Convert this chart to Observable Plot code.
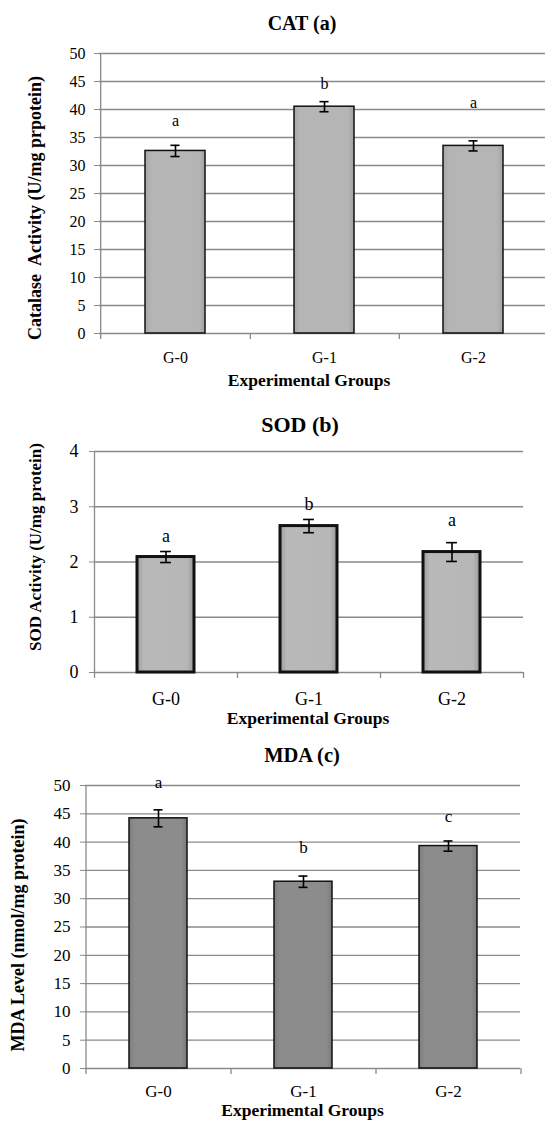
<!DOCTYPE html>
<html><head><meta charset="utf-8">
<script src="https://cdn.jsdelivr.net/npm/d3@7"></script>
<script src="https://cdn.jsdelivr.net/npm/@observablehq/plot@0.6"></script>
<style>
body{margin:0;background:#fff;}
#wrap{position:relative;width:545px;height:1127px;overflow:hidden;font-family:"Liberation Serif","Times New Roman",serif;color:#000;}
#wrap svg text{font-family:"Liberation Serif","Times New Roman",serif !important;font-variant-numeric:normal !important;}
.t{position:absolute;white-space:pre;line-height:1;font-weight:bold;transform:translateX(-50%);}
.yl{position:absolute;white-space:pre;line-height:1;font-weight:bold;transform:translate(-50%,-50%) rotate(-90deg);}
</style></head><body><div id="wrap">
<svg width="0" height="0" style="position:absolute"><defs>
<linearGradient id="gCat" x1="0" x2="1" y1="0" y2="0"><stop offset="0" stop-color="#a6a6a6"/><stop offset="0.1" stop-color="#b5b5b5"/><stop offset="0.9" stop-color="#b5b5b5"/><stop offset="1" stop-color="#a2a2a2"/></linearGradient>
<linearGradient id="gSod" x1="0" x2="1" y1="0" y2="0"><stop offset="0" stop-color="#9c9c9c"/><stop offset="0.12" stop-color="#b9b9b9"/><stop offset="0.88" stop-color="#b7b7b7"/><stop offset="1" stop-color="#989898"/></linearGradient>
<linearGradient id="gMda" x1="0" x2="1" y1="0" y2="0"><stop offset="0" stop-color="#7e7e7e"/><stop offset="0.1" stop-color="#8c8c8c"/><stop offset="0.9" stop-color="#8c8c8c"/><stop offset="1" stop-color="#7a7a7a"/></linearGradient>
</defs></svg>
</div>
<script>
const groups = ["G-0", "G-1", "G-2"];

const catMean = [32.6, 40.5, 33.5];
const catErr = [1.0, 0.9, 0.9];
const catLetters = ["a", "b", "a"];
const catLetterY = [38.0, 44.6, 41.1];
const catTicks = [0, 5, 10, 15, 20, 25, 30, 35, 40, 45, 50];

const sodMean = [2.09, 2.65, 2.18];
const sodErr = [0.1, 0.12, 0.17];
const sodLetters = ["a", "b", "a"];
const sodLetterY = [2.46, 3.04, 2.75];
const sodTicks = [0, 1, 2, 3, 4];

const mdaMean = [44.2, 33.0, 39.3];
const mdaErr = [1.5, 1.0, 0.9];
const mdaLetters = ["a", "b", "c"];
const mdaLetterY = [50.6, 39.0, 44.5];
const mdaTicks = [0, 5, 10, 15, 20, 25, 30, 35, 40, 45, 50];

const wrap = document.getElementById("wrap");
const FONT = "Liberation Serif";
const GRID = "#8a8a8a";

function panel(c) {
  const data = groups.map((g, i) => ({g, v: c.mean[i], e: c.err[i], l: c.letters[i], ly: c.letterY[i]}));
  const ymax = c.ticks[c.ticks.length - 1];
  const step = (c.width - c.ml - c.mr) / groups.length;
  const bw = step * 0.4;
  const inset = (bw - c.capW) / 2;
  const svg = Plot.plot({
    width: c.width, height: c.height,
    marginLeft: c.ml, marginRight: c.mr, marginTop: c.mt, marginBottom: c.mb,
    style: `font-family: 'Liberation Serif', serif; font-size: ${c.tickFont}px; color: #000; background: transparent; max-width: none; overflow: visible; position: absolute; left: 0px; top: ${c.top}px;`,
    x: {domain: groups, paddingInner: 0.6, paddingOuter: 0.3, label: null},
    y: {domain: [0, ymax], label: null},
    marks: [
      Plot.gridY({ticks: c.ticks, stroke: GRID, strokeOpacity: 1, strokeWidth: 1.3}),
      Plot.ruleX([groups[0]], {x: d => d, dx: -step / 2, y1: ymax, y2: 0, insetBottom: -6, stroke: GRID, strokeWidth: 1.3}),
      Plot.ruleX(groups, {x: d => d, dx: step / 2, y1: 0, y2: 0, insetBottom: -6, stroke: GRID, strokeWidth: 1.3}),
      Plot.barY(data, {x: "g", y: "v", fill: c.fill, stroke: "#111", strokeWidth: c.barStroke}),
      Plot.ruleX(data, {x: "g", y1: d => d.v - d.e, y2: d => d.v + d.e, stroke: "#000", strokeWidth: 1.6}),
      Plot.tickY(data, {x: "g", y: d => d.v + d.e, insetLeft: inset, insetRight: inset, stroke: "#000", strokeWidth: 1.6}),
      Plot.tickY(data, {x: "g", y: d => d.v - d.e, insetLeft: inset, insetRight: inset, stroke: "#000", strokeWidth: 1.6}),
      Plot.text(data, {x: "g", y: "ly", text: "l", fontSize: c.letterFont, fontFamily: FONT, lineAnchor: "middle", fill: "#000"}),
      Plot.axisY({ticks: c.ticks, tickFormat: d => String(d), tickSize: 5, tickPadding: c.yPad, stroke: GRID, fill: "#000", fontSize: c.tickFont, fontFamily: FONT, label: null}),
      Plot.axisX({tickSize: 0, tickPadding: c.xPad, fontSize: c.xFont, fontFamily: FONT, fill: "#000", label: null})
    ]
  });
  wrap.appendChild(svg);
}

function label(text, cls, x, y, size) {
  const d = document.createElement("div");
  d.className = cls;
  d.textContent = text;
  d.style.left = x + "px";
  d.style.top = y + "px";
  d.style.fontSize = size + "px";
  wrap.appendChild(d);
}

panel({mean: catMean, err: catErr, letters: catLetters, letterY: catLetterY, ticks: catTicks,
  top: 0, width: 548, height: 375, ml: 99, mr: 0, mt: 53, mb: 42,
  fill: "url(#gCat)", barStroke: 1.5, tickFont: 16, xFont: 16, yPad: 9, xPad: 18, letterFont: 16, capW: 9});

panel({mean: sodMean, err: sodErr, letters: sodLetters, letterY: sodLetterY, ticks: sodTicks,
  top: 440, width: 545, height: 270, ml: 94, mr: 22, mt: 11, mb: 38,
  fill: "url(#gSod)", barStroke: 3, tickFont: 18, xFont: 18, yPad: 11, xPad: 20, letterFont: 18, capW: 11});

panel({mean: mdaMean, err: mdaErr, letters: mdaLetters, letterY: mdaLetterY, ticks: mdaTicks,
  top: 765, width: 545, height: 335, ml: 85, mr: 25, mt: 20, mb: 32,
  fill: "url(#gMda)", barStroke: 1.5, tickFont: 17, xFont: 17, yPad: 10, xPad: 16, letterFont: 17, capW: 9});

// titles (top = baseline - 0.8375*size)
label("CAT (a)", "t", 302, 30 - 0.8375 * 20, 20);
label("SOD (b)", "t", 300, 432 - 0.8375 * 22, 22);
label("MDA (c)", "t", 302, 762 - 0.8375 * 20.5, 20.5);
// x-axis titles
label("Experimental Groups", "t", 309, 387 - 0.8375 * 17.5, 17.5);
label("Experimental Groups", "t", 308, 725 - 0.8375 * 17.5, 17.5);
label("Experimental Groups", "t", 302.5, 1117 - 0.8375 * 17.5, 17.5);
// y-axis titles
label("Catalase  Activity (U/mg prpotein)", "yl", 35, 208, 18);
label("SOD Activity (U/mg protein)", "yl", 35, 547, 17);
label("MDA Level (nmol/mg protein)", "yl", 18, 935, 18);
</script>
</body></html>
